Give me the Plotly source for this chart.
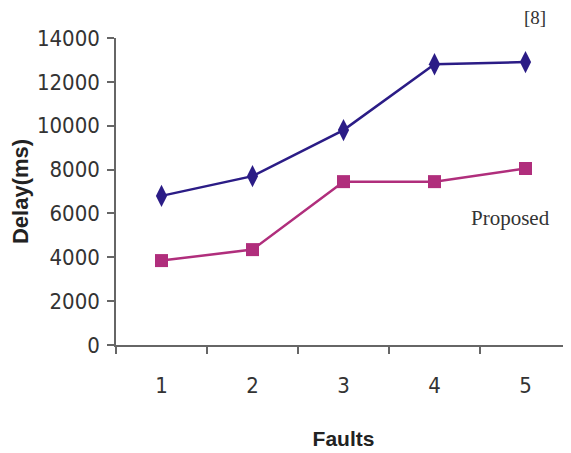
import plotly.graph_objects as go

faults = ["1", "2", "3", "4", "5"]
ref8 = [6800, 7700, 9800, 12800, 12900]
proposed = [3850, 4350, 7450, 7450, 8050]
yticks = [0, 2000, 4000, 6000, 8000, 10000, 12000, 14000]
yticklabels = [str(v) for v in yticks]

fig = go.Figure()
fig.add_trace(go.Scatter(x=faults, y=ref8, mode="lines+markers", name="[8]",
                         line=dict(color="#2B1C86", width=2.5),
                         marker=dict(symbol="diamond-tall", size=16, color="#2B1C86")))
fig.add_trace(go.Scatter(x=faults, y=proposed, mode="lines+markers", name="Proposed",
                         line=dict(color="#B02E7C", width=2.5),
                         marker=dict(symbol="square", size=13, color="#B02E7C")))

tickfont = dict(family="Liberation Sans Narrow, DejaVu Sans Condensed, Liberation Sans, sans-serif", size=22, color="#333333")
fig.update_layout(
    width=563, height=445,
    margin=dict(l=108, r=0, t=30, b=108, autoexpand=False),
    paper_bgcolor="white", plot_bgcolor="white",
    showlegend=False,
    xaxis=dict(type="category", range=[-0.5, 4.5], showgrid=False, zeroline=False,
               automargin=False,
               showline=True, linecolor="#666666", linewidth=1.5,
               ticks="outside", ticklen=7, tickcolor="#666666", tickwidth=1.5,
               tickson="boundaries", tickfont=tickfont, ticklabelstandoff=20,
               title=dict(text="<b>Faults</b>", font=dict(family="Liberation Sans, Arial, sans-serif", size=21, color="#222222"), standoff=34)),
    yaxis=dict(range=[0, 14000], tickvals=yticks, ticktext=yticklabels, showgrid=False, zeroline=False,
               automargin=False,
               showline=True, linecolor="#666666", linewidth=1.5,
               ticks="outside", ticklen=7, tickcolor="#666666", tickwidth=1.5,
               tickfont=tickfont, ticklabelstandoff=3,
               title=dict(text="<b>Delay(ms)</b>", font=dict(family="Liberation Sans, Arial, sans-serif", size=22, color="#222222"), standoff=18)),
    annotations=[
        dict(text="[8]", xref="paper", yref="paper", x=0.921, y=1.068, xanchor="center", yanchor="middle",
             showarrow=False,
             font=dict(family="Liberation Serif, Times New Roman, serif", size=19, color="#333333")),
        dict(text="Proposed", xref="paper", yref="paper", x=0.866, y=0.414, xanchor="center", yanchor="middle",
             showarrow=False,
             font=dict(family="Liberation Serif, Times New Roman, serif", size=21, color="#333333")),
    ],
)
fig.write_html("out.html")
